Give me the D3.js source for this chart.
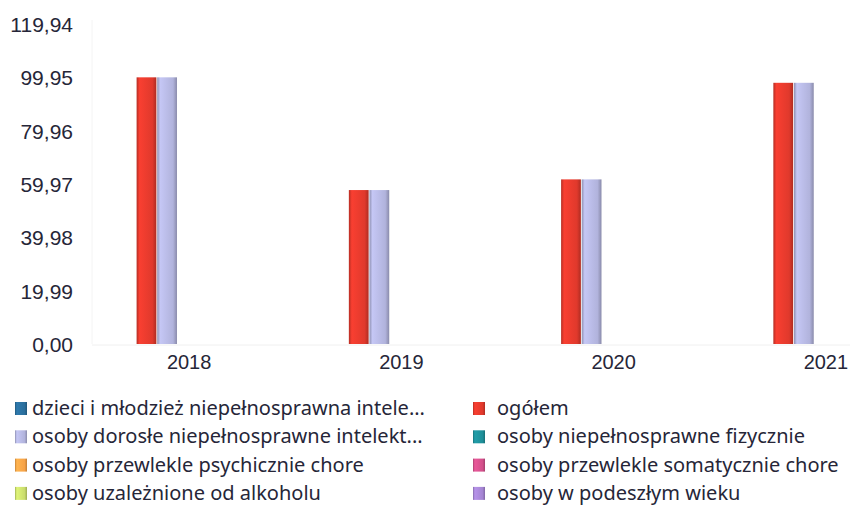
<!DOCTYPE html>
<html>
<head>
<meta charset="utf-8">
<script src="https://cdn.jsdelivr.net/npm/d3@7"></script>
<style>
  body { margin: 0; background: #fff; }
  svg { display: block; font-family: "Noto Sans", "Open Sans", sans-serif; }
</style>
</head>
<body>
<svg width="850" height="514"></svg>
<script>
// data
var years = ["2018", "2019", "2020", "2021"];
var series = [
  "dzieci i młodzież niepełnosprawna intele...",
  "ogółem",
  "osoby dorosłe niepełnosprawne intelekt...",
  "osoby niepełnosprawne fizycznie",
  "osoby przewlekle psychicznie chore",
  "osoby przewlekle somatycznie chore",
  "osoby uzależnione od alkoholu",
  "osoby w podeszłym wieku"
];
var colors = ["#2a6e9c", "#e0392c", "#b1b3dc", "#1e8e98", "#f6a247", "#d24f8a", "#c9dc6c", "#a484d2"];
var ogolem = [99.95, 57.7, 61.7, 97.9];
var dorosle = [99.95, 57.7, 61.7, 97.9];
var yTicks = [0, 19.99, 39.98, 59.97, 79.96, 99.95, 119.94];

var values = {};
values[series[1]] = ogolem;
values[series[2]] = dorosle;

var svg = d3.select("svg");

var y = d3.scaleLinear().domain([0, 119.94]).range([344, 24]);
var x0 = d3.scaleBand().domain(years).range([83, 932]);
var x1 = d3.scaleBand().domain(series).range([33, 197]).paddingInner(0.04);

var locale = d3.formatLocale({ decimal: ",", thousands: " ", grouping: [3], currency: ["", " zł"] });
var fmt = locale.format(".2f");

// gradients for a bit of shading on the bars
var defs = svg.append("defs");
colors.forEach(function(c, i) {
  var g = defs.append("linearGradient").attr("id", "g" + i).attr("x1", "0").attr("x2", "1");
  var base = d3.color(c);
  g.append("stop").attr("offset", "0").attr("stop-color", base.darker(0.6));
  g.append("stop").attr("offset", "0.15").attr("stop-color", base.brighter(0.3));
  g.append("stop").attr("offset", "0.8").attr("stop-color", base);
  g.append("stop").attr("offset", "1").attr("stop-color", base.darker(0.7));
});

// faint frame lines
svg.append("line").attr("x1", 92).attr("x2", 92).attr("y1", 20).attr("y2", y(0))
  .attr("stroke", "#f4f4f4");
svg.append("line").attr("x1", 92).attr("x2", 850).attr("y1", y(0) + 1).attr("y2", y(0) + 1)
  .attr("stroke", "#f0f0f0");

// y axis
var yAxis = d3.axisLeft(y).tickValues(yTicks).tickFormat(fmt).tickSize(0).tickPadding(0);
var ya = svg.append("g").attr("transform", "translate(73,0)").call(yAxis);
ya.select(".domain").remove();
ya.selectAll("text").attr("fill", "#262638").style("font-size", "21px").attr("dy", "0.35em");

// x axis
var xAxis = d3.axisBottom(x0).tickSize(0).tickPadding(0);
var xa = svg.append("g").attr("transform", "translate(0,352)").call(xAxis);
xa.select(".domain").remove();
xa.selectAll("text").attr("fill", "#262638").style("font-size", "20px").attr("dy", "0.85em");

// bars
var groups = svg.append("g").selectAll("g")
  .data(years)
  .enter().append("g")
  .attr("transform", function(d) { return "translate(" + x0(d) + ",0)"; });

groups.selectAll("rect")
  .data(function(d, i) {
    return series.filter(function(s) { return values[s]; })
      .map(function(s) { return { s: s, v: values[s][i] }; });
  })
  .enter().append("rect")
  .attr("x", function(d) { return x1(d.s); })
  .attr("width", x1.bandwidth())
  .attr("y", function(d) { return y(d.v); })
  .attr("height", function(d) { return y(0) - y(d.v); })
  .attr("fill", function(d) { return "url(#g" + series.indexOf(d.s) + ")"; });

// legend, two columns, row-major
var legend = svg.append("g").selectAll("g")
  .data(series)
  .enter().append("g")
  .attr("transform", function(d, i) {
    return "translate(" + (i % 2 ? 473 : 15) + "," + (408 + Math.floor(i / 2) * 28.3) + ")";
  });

legend.append("rect")
  .attr("x", 0).attr("y", -6).attr("width", 12).attr("height", 13)
  .attr("fill", function(d, i) { return "url(#g" + i + ")"; });

legend.append("text")
  .attr("x", function(d, i) { return i % 2 ? 24 : 17; })
  .attr("dy", "0.35em")
  .attr("fill", "#262638")
  .style("font-size", "20px")
  .text(function(d) { return d; });
</script>
</body>
</html>
